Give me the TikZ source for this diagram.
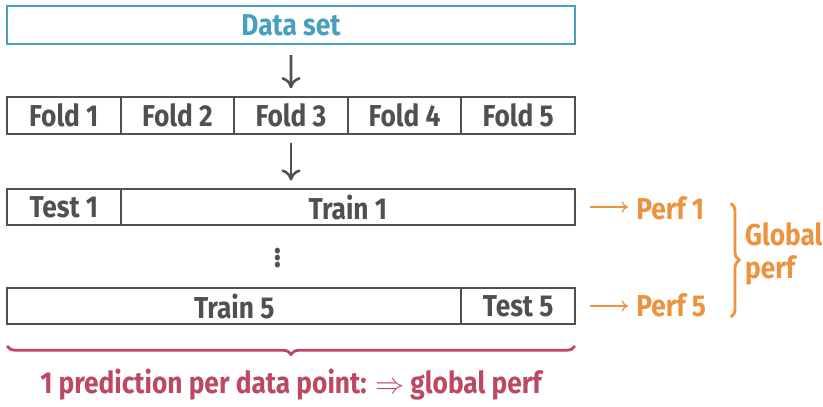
\documentclass[tikz,border=0pt]{standalone}
\usepackage{fontspec}
\setmainfont{Fira Sans}[FakeStretch=0.87]
\usepackage{tikz}
\usetikzlibrary{positioning,arrows.meta,calc,decorations.pathreplacing}
\definecolor{txtgray}{RGB}{80,80,80}
\definecolor{teal}{RGB}{72,160,190}
\definecolor{perfc}{RGB}{238,146,62}
\definecolor{predc}{RGB}{188,72,100}
\newcommand{\bigtxt}{\fontsize{21.5}{24}\selectfont\bfseries}
\tikzset{
  cell/.style={draw=txtgray,line width=1.3pt,text=txtgray,font=\bigtxt,
    minimum height=9.2mm,inner sep=0pt,outer sep=0pt},
  fold/.style={cell,minimum width=28.4mm},
  ar/.style={-{To[length=2.8mm,width=4.8mm]},line width=1.8pt,txtgray},
  par/.style={-{To[length=1.6mm,width=2.8mm]},line width=0.9pt,perfc},
  perf/.style={text=perfc,font=\bigtxt,anchor=west,inner sep=0pt},
}

\begin{document}
\begin{tikzpicture}
  \useasboundingbox (0,0) rectangle (20.575,-10.15);
  % data set
  \node[cell,draw=teal,text=teal,minimum width=142mm,minimum height=9.5mm] (data) at (7.275,-0.625) {Data set};
  % the five folds
  \node[fold,anchor=west] (f1) at (0.175,-2.8875) {Fold 1};
  \node[fold,right=0pt of f1] (f2) {Fold 2};
  \node[fold,right=0pt of f2] (f3) {Fold 3};
  \node[fold,right=0pt of f3] (f4) {Fold 4};
  \node[fold,right=0pt of f4] (f5) {Fold 5};
  \draw[ar,shorten <=2.8mm,shorten >=2.2mm] (data.south) -- (f3.north);
  % first split
  \node[fold,anchor=west] (test1) at (0.175,-5.175) {Test 1};
  \node[cell,minimum width=113.6mm,right=0pt of test1] (train1) {Train 1};
  \draw[ar,shorten <=2.2mm,shorten >=2mm] (f3.south) -- (f3.south |- train1.north);
  \node[text=txtgray,font=\fontsize{30}{32}\selectfont,inner sep=0pt] (dots) at (6.95,-6.35) {$\vdots$};
  % last split
  \node[cell,minimum width=113.6mm,anchor=west] (train5) at (0.175,-7.65) {Train 5};
  \node[fold,right=0pt of train5] (test5) {Test 5};
  % performances
  \node[perf] (p1) at (15.9,-5.2) {Perf 1};
  \node[perf] (p5) at (15.9,-7.62) {Perf 5};
  \draw[par,shorten <=3.7mm,shorten >=2mm] (train1.east) -- (p1.west |- train1.east);
  \draw[par,shorten <=3.7mm,shorten >=2mm] (test5.east) -- (p5.west |- test5.east);
  \coordinate (btop) at (18.27,-5.08);
  \coordinate (bbot) at (18.27,-7.93);
  \draw[perfc,line width=2pt,decorate,decoration={brace,amplitude=6pt}] (btop) -- (bbot);
  \node[perf,align=left] (glob) at (18.62,-6.35) {Global\\perf};
  % all test folds together
  \coordinate (lbr) at (0.175,-8.65);
  \coordinate (rbr) at (14.375,-8.65);
  \draw[predc,line width=2pt,decorate,decoration={brace,amplitude=6pt}] (rbr) -- (lbr);
  \node[text=predc,font=\bigtxt] (pred) at (7.275,-9.62)
    {1 prediction per data point: $\Rightarrow$ global perf};
\end{tikzpicture}
\end{document}
